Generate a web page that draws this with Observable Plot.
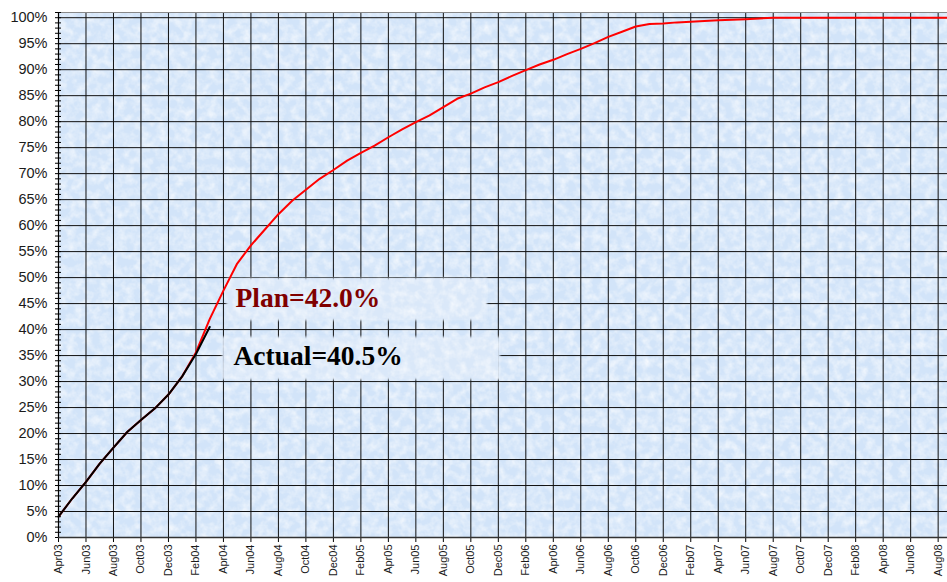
<!DOCTYPE html>
<html><head><meta charset="utf-8">
<script src="https://cdn.jsdelivr.net/npm/d3@7"></script>
<script src="https://cdn.jsdelivr.net/npm/@observablehq/plot@0.6"></script>
<style>
html,body{margin:0;padding:0;background:#fff;overflow:hidden;}
#chart{width:947px;height:582px;overflow:hidden;}
</style></head><body><div id="chart"></div>
<script>
// Month index 0 = Apr03, one step per month
const tickLabels = ["Apr03","Jun03","Aug03","Oct03","Dec03","Feb04","Apr04","Jun04","Aug04","Oct04","Dec04",
  "Feb05","Apr05","Jun05","Aug05","Oct05","Dec05","Feb06","Apr06","Jun06","Aug06","Oct06","Dec06",
  "Feb07","Apr07","Jun07","Aug07","Oct07","Dec07","Feb08","Apr08","Jun08","Aug08"];

// Plan (cumulative %), Apr03 .. Sep08
const planValues = [4.0,7.5,10.7,14.2,17.3,20.3,22.6,24.8,27.5,31.0,35.6,42.0,
  47.5,52.7,56.2,59.2,62.2,64.8,66.9,69.0,70.7,72.5,74.0,75.4,
  77.0,78.5,79.9,81.2,82.8,84.4,85.4,86.6,87.6,88.8,89.9,91.0,
  91.9,93.0,94.0,95.1,96.3,97.3,98.3,98.8,98.9,99.1,99.2,99.35,
  99.5,99.6,99.7,99.85,100,100,100,100,100,100,100,100,100,100,100,100,100,100];

// Actual (cumulative %), Apr03 .. Mar04
const actualValues = [4.0,7.5,10.7,14.2,17.3,20.3,22.6,24.8,27.5,31.0,35.3,40.5];

const majorY = [0,5,10,15,20,25,30,35,40,45,50,55,60,65,70,75,80,85,90,95,100];
const minorY = d3.range(0, 102, 1);

const noteTexts = ["Plan=42.0%", "Actual=40.5%"];
const noteColors = ["#800000", "#000000"];
const noteX = [12.88, 12.73];
const noteY = [46.1, 34.8];
const boxX1 = [12.25, 11.95];
const boxX2 = [31.2, 32.15];
const boxY1 = [41.7, 30.3];
const boxY2 = [49.8, 38.5];

const planData = planValues.map((v, i) => ({i, v}));
const actualData = actualValues.map((v, i) => ({i, v}));
const tickIdx = tickLabels.map((_, k) => k * 2);
const notes = noteTexts.map((t, k) => ({t, c: noteColors[k], x: noteX[k], y: noteY[k]}));
const boxes = noteTexts.map((t, k) => ({x1: boxX1[k], x2: boxX2[k], y1: boxY1[k], y2: boxY2[k]}));

const sans = "'Liberation Sans', Arial, sans-serif";
const serif = "'Liberation Serif', 'Times New Roman', serif";

const chart = Plot.plot({
  width: 947, height: 582,
  marginLeft: 58, marginRight: 0, marginTop: 12, marginBottom: 45,
  style: {fontFamily: sans, background: "transparent", overflow: "hidden"},
  x: {domain: [0, 64.68], axis: null},
  y: {domain: [0, 101], axis: null},
  marks: [
    Plot.frame({fill: "#d2e4f9", stroke: null}),
    Plot.ruleY(majorY, {stroke: "#111", strokeWidth: 1}),
    Plot.ruleX(tickIdx, {stroke: "#111", strokeWidth: 1}),
    Plot.rect(boxes, {x1: "x1", x2: "x2", y1: "y1", y2: "y2", fill: "#dae8f9"}),
    Plot.line(planData, {x: "i", y: "v", stroke: "#ff0000", strokeWidth: 2, clip: true}),
    Plot.line(actualData, {x: "i", y: "v", stroke: "#000", strokeWidth: 2}),
    Plot.text(notes, {x: "x", y: "y", text: "t", fill: "c", textAnchor: "start",
      fontFamily: serif, fontWeight: "bold", fontSize: 27.5}),
    Plot.ruleY([101], {stroke: "#888", strokeWidth: 1}),
    Plot.axisY(minorY, {tickSize: 6, dx: 3, tickFormat: () => "", label: null, stroke: "#000"}),
    Plot.axisY(majorY, {tickSize: 0, tickPadding: 11, tickFormat: d => d + "%", label: null,
      fontSize: 14.5, fill: "#1a1a1a"}),
    Plot.axisX(tickIdx, {tickSize: 5, tickPadding: 2, tickRotate: -90, tickFormat: i => tickLabels[i / 2],
      label: null, fontSize: 11, fill: "#1a1a1a", stroke: "#000"}),
    Plot.ruleX([0], {stroke: "#000", strokeWidth: 1.2}),
    Plot.ruleY([0], {stroke: "#333", strokeWidth: 1.5})
  ]
});

// fine paper-like texture for the plot background and the note boxes
const ns = "http://www.w3.org/2000/svg";
const defs = document.createElementNS(ns, "defs");
defs.innerHTML = `
<filter id="paper" x="0" y="0" width="1" height="1" color-interpolation-filters="sRGB">
  <feTurbulence type="fractalNoise" baseFrequency="0.12" numOctaves="3" seed="7" result="noise"/>
  <feColorMatrix in="noise" type="matrix" values="0 0 0 0 1  0 0 0 0 1  0 0 0 0 1  1.2 0 0 0 -0.42" result="white"/>
  <feComposite in="white" in2="SourceGraphic" operator="in" result="mottle"/>
  <feMerge><feMergeNode in="SourceGraphic"/><feMergeNode in="mottle"/></feMerge>
</filter>
<filter id="boxf" x="-0.05" y="-0.2" width="1.1" height="1.4" color-interpolation-filters="sRGB">
  <feGaussianBlur in="SourceGraphic" stdDeviation="1.2" result="soft"/>
  <feTurbulence type="fractalNoise" baseFrequency="0.12" numOctaves="3" seed="3" result="noise"/>
  <feColorMatrix in="noise" type="matrix" values="0 0 0 0 1  0 0 0 0 1  0 0 0 0 1  1.2 0 0 0 -0.42" result="white"/>
  <feComposite in="white" in2="soft" operator="in" result="mottle"/>
  <feMerge><feMergeNode in="soft"/><feMergeNode in="mottle"/></feMerge>
</filter>`;
chart.insertBefore(defs, chart.firstChild);
const frame = chart.querySelector('[aria-label="frame"]');
if (frame) frame.setAttribute("filter", "url(#paper)");
const rects = chart.querySelector('[aria-label="rect"]');
if (rects) rects.setAttribute("filter", "url(#boxf)");

document.getElementById("chart").appendChild(chart);
</script>
</body></html>
